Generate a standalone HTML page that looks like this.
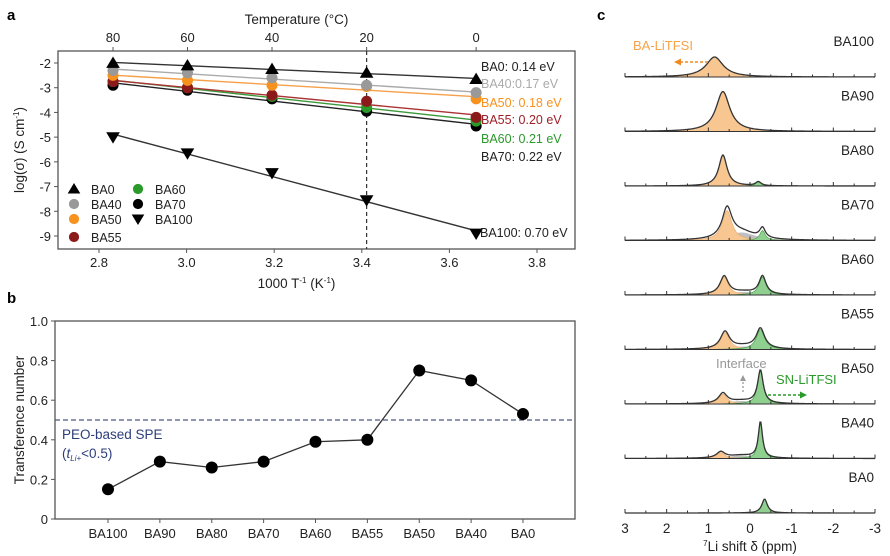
<!DOCTYPE html>
<html><head><meta charset="utf-8"><style>
html,body{margin:0;padding:0;background:#fff;}
svg{display:block;font-family:"Liberation Sans",Arial,sans-serif;}
</style></head><body>
<svg id="fig" width="890" height="556" viewBox="0 0 890 556" xmlns="http://www.w3.org/2000/svg"></svg>
<script>
// ---------- Panel a data ----------
const tempC = [80, 60, 40, 20, 0];
const invT = [2.832, 3.002, 3.195, 3.411, 3.661];
const seriesNames = ["BA0","BA40","BA50","BA55","BA60","BA70","BA100"];
const logBA0 = [-2.0, -2.1, -2.25, -2.4, -2.65];
const logBA40 = [-2.3, -2.4, -2.6, -2.9, -3.2];
const logBA50 = [-2.5, -2.7, -2.9, -2.95, -3.45];
const logBA55 = [-2.75, -3.0, -3.3, -3.55, -4.2];
const logBA60 = [-2.75, -3.0, -3.35, -3.8, -4.35];
const logBA70 = [-2.9, -3.1, -3.45, -3.95, -4.55];
const logBA100 = [-5.0, -5.65, -6.45, -7.55, -8.9];
const activation = ["0.14","0.17","0.18","0.20","0.21","0.22","0.70"];
const xTicksA = [2.8, 3.0, 3.2, 3.4, 3.6, 3.8];
const yTicksA = [-2,-3,-4,-5,-6,-7,-8,-9];
// ---------- Panel b data ----------
const bCats = ["BA100","BA90","BA80","BA70","BA60","BA55","BA50","BA40","BA0"];
const bVals = [0.15, 0.29, 0.26, 0.29, 0.39, 0.40, 0.75, 0.70, 0.53];
const yTicksB = [0, 0.2, 0.4, 0.6, 0.8, 1.0];
const peoLimit = 0.5;
// ---------- Panel c data ----------
const cNames = ["BA100","BA90","BA80","BA70","BA60","BA55","BA50","BA40","BA0"];
const orangeCenter = [0.85, 0.65, 0.65, 0.55, 0.62, 0.6, 0.65, 0.7, 0];
const orangeHeight = [20, 40, 31, 30, 18, 17, 10, 6, 0];
const orangeWidth = [0.25, 0.2, 0.12, 0.14, 0.12, 0.13, 0.12, 0.12, 0.1];
const greenCenter = [0, 0, -0.2, -0.3, -0.3, -0.25, -0.25, -0.25, -0.35];
const greenHeight = [0, 0, 4, 10, 18, 20, 33, 36, 14];
const greenWidth = [0.1, 0.1, 0.08, 0.08, 0.1, 0.12, 0.08, 0.06, 0.08];
const grayCenter = [0, 0, 0, 0.2, 0.15, 0.15, 0.2, 0.2, 0];
const grayHeight = [0, 0, 0, 8, 3, 3, 3, 3, 0];
const grayWidth = [0.4, 0.4, 0.4, 0.4, 0.4, 0.4, 0.4, 0.4, 0.4];
const xTicksC = [3, 2, 1, 0, -1, -2, -3];

const NS = "http://www.w3.org/2000/svg";
const svg = document.getElementById("fig");
function mk(tag, attrs, parent, text) {
  const e = document.createElementNS(NS, tag);
  for (const k in attrs) e.setAttribute(k, attrs[k]);
  if (text !== undefined) e.textContent = text;
  (parent || svg).appendChild(e);
  return e;
}

// ================= Panel a =================
const A = {l:58, r:575, t:51, b:249};
const xa = v => 99 + (v - 2.8) * 438;
const ya = v => 63 + (-2 - v) * (173/7);
const ga = mk("g", {});  
let t = mk("text",{x:7,y:20,"font-size":15,"font-weight":"bold"},ga,"a");  
let fr = mk("rect",{x:A.l,y:A.t,width:A.r-A.l,height:A.b-A.t,fill:"none",stroke:"#555","stroke-width":1.3},ga);  
xTicksA.forEach(v=>{
  mk("line",{x1:xa(v),x2:xa(v),y1:A.b,y2:A.b+4,stroke:"#555"},ga);
  let tt = mk("text",{x:xa(v),y:A.b+18,"font-size":13,"text-anchor":"middle",fill:"#222"},ga,v.toFixed(1));
   
});
yTicksA.forEach(v=>{
  mk("line",{x1:A.l-4,x2:A.l,y1:ya(v),y2:ya(v),stroke:"#555"},ga);
  let tt = mk("text",{x:A.l-7,y:ya(v)+5,"font-size":13,"text-anchor":"end",fill:"#222"},ga,String(v));
   
});
tempC.forEach((c,i)=>{
  mk("line",{x1:xa(invT[i]),x2:xa(invT[i]),y1:A.t,y2:A.t-4,stroke:"#555"},ga);
  let tt = mk("text",{x:xa(invT[i]),y:A.t-9,"font-size":13,"text-anchor":"middle",fill:"#222"},ga,String(c));
   
});
t = mk("text",{x:(A.l+A.r)/2-20,y:24,"font-size":13.5,"text-anchor":"middle",fill:"#222"},ga,"Temperature (°C)");  
t = mk("text",{x:(A.l+A.r)/2-20,y:288,"font-size":13.5,"text-anchor":"middle",fill:"#222"},ga);  
t.innerHTML = '1000 T<tspan dy="-5" font-size="8">-1</tspan><tspan dy="5"> (K</tspan><tspan dy="-5" font-size="8">-1</tspan><tspan dy="5">)</tspan>';
t = mk("text",{x:0,y:0,"font-size":13.5,"text-anchor":"middle",fill:"#222",transform:"translate(24,150) rotate(-90)"},ga);  
t.innerHTML = 'log(σ) (S cm<tspan dy="-5" font-size="8">-1</tspan><tspan dy="5">)</tspan>';
let dv = mk("line",{x1:xa(3.411),x2:xa(3.411),y1:A.t,y2:A.b,stroke:"#333","stroke-dasharray":"4,3","stroke-width":1.2},ga);  

const allA = [logBA0,logBA40,logBA50,logBA55,logBA60,logBA70,logBA100];
const mColors = ["#000","#999","#f7921e","#8b1a1a","#2a9a2a","#000","#000"];
const lColors = ["#333","#aaa","#f5a04a","#a33","#3a9a3a","#222","#333"];
const txtColors = ["#222","#aaa","#f7921e","#a0202a","#2a9a2a","#222","#222"];
const shapes = ["up","c","c","c","c","c","down"];
function marker(g, shape, cx, cy, col, s) {
  let m;
  if (shape==="up") m = mk("path",{d:`M${cx},${cy-s} L${cx+s*1.05},${cy+s*0.75} L${cx-s*1.05},${cy+s*0.75}Z`,fill:col},g);
  else if (shape==="down") m = mk("path",{d:`M${cx},${cy+s} L${cx+s*1.05},${cy-s*0.75} L${cx-s*1.05},${cy-s*0.75}Z`,fill:col},g);
  else m = mk("circle",{cx:cx,cy:cy,r:s*0.85,fill:col},g);
  return m;
}
// draw order: back to front
[6,5,4,3,2,1,0].forEach(si=>{
  const ys = allA[si];
  const n = invT.length;
  const mx = invT.reduce((a,b)=>a+b,0)/n, my = ys.reduce((a,b)=>a+b,0)/n;
  let sxy=0,sxx=0; for(let i=0;i<n;i++){sxy+=(invT[i]-mx)*(ys[i]-my);sxx+=(invT[i]-mx)**2;}
  const k = sxy/sxx, b0 = my-k*mx;
  const g = mk("g",{},ga);  
  let ln = mk("line",{x1:xa(invT[0]),y1:ya(k*invT[0]+b0),x2:xa(invT[n-1]),y2:ya(k*invT[n-1]+b0),stroke:lColors[si],"stroke-width":1.4},g);
   
  ys.forEach((v,i)=>{
    const m = marker(g, shapes[si], xa(invT[i]), ya(v), mColors[si], 6.5);
     
  });
});
const annY = [66,83,102,119,138,156,232];
seriesNames.forEach((nm,i)=>{
  const lab = nm + (i===1 ? ":" : ": ") + activation[i] + " eV";
  let tt = mk("text",{x:i===6?480:481,y:annY[i]+5,"font-size":12.5,fill:txtColors[i]},ga,lab);
   
});
// legend
const lg = mk("g",{},ga);  
const legPos = [[74,189],[74,204],[74,219],[74,237],[138,189],[138,204],[138,219]];
seriesNames.forEach((nm,i)=>{
  const [lx,ly] = legPos[i];
  const e = mk("g",{},lg);  
  marker(e, shapes[i], lx, ly, mColors[i], 6);
  mk("text",{x:lx+17,y:ly+5,"font-size":12.5,fill:"#222"},e,nm);
});

// ================= Panel b =================
const B = {l:55, r:575, t:321, b:519};
const xb = i => 108 + i * ((523-108)/8);
const yb = v => B.b - v * (B.b - B.t);
const gb = mk("g",{});  
t = mk("text",{x:7,y:303,"font-size":15,"font-weight":"bold"},gb,"b");  
fr = mk("rect",{x:B.l,y:B.t,width:B.r-B.l,height:B.b-B.t,fill:"none",stroke:"#555","stroke-width":1.3},gb);  
yTicksB.forEach(v=>{
  mk("line",{x1:B.l-4,x2:B.l,y1:yb(v),y2:yb(v),stroke:"#555"},gb);
  let tt = mk("text",{x:B.l-7,y:yb(v)+5,"font-size":13,"text-anchor":"end",fill:"#222"},gb,v===0?"0":v.toFixed(1));
   
});
bCats.forEach((c,i)=>{
  mk("line",{x1:xb(i),x2:xb(i),y1:B.b,y2:B.b+4,stroke:"#555"},gb);
  let tt = mk("text",{x:xb(i),y:B.b+19,"font-size":13,"text-anchor":"middle",fill:"#222"},gb,c);
   
});
t = mk("text",{x:0,y:0,"font-size":13.5,"text-anchor":"middle",fill:"#222",transform:"translate(24,420) rotate(-90)"},gb,"Transference number");  
let hl = mk("line",{x1:B.l,x2:B.r,y1:yb(peoLimit),y2:yb(peoLimit),stroke:"#4a5a80","stroke-dasharray":"5,3","stroke-width":1.2},gb);  
t = mk("text",{x:62,y:439,"font-size":13.5,fill:"#2c3e7a"},gb,"PEO-based SPE");  
t = mk("text",{x:62,y:458,"font-size":13.5,fill:"#2c3e7a"},gb);  
t.innerHTML = '(<tspan font-style="italic">t</tspan><tspan font-size="8" font-style="italic" dy="3">Li+</tspan><tspan dy="-3">&lt;0.5)</tspan>';
let pl = mk("polyline",{points:bVals.map((v,i)=>xb(i)+","+yb(v)).join(" "),fill:"none",stroke:"#333","stroke-width":1.3},gb);  
bVals.forEach((v,i)=>{
  let c = mk("circle",{cx:xb(i),cy:yb(v),r:6,fill:"#000"},gb);
   
});

// ================= Panel c =================
const xc = p => 625 + (3 - p) * (250/6);
const baseC = i => 77 + i * 54.5;
const gc = mk("g",{});  
t = mk("text",{x:597,y:20,"font-size":15,"font-weight":"bold"},gc,"c");  
const lor = (p,c,h,w) => h / (1 + ((p-c)/w)**2);
function pathFor(fn, y0, fill) {
  let d = "";
  for (let p=3; p>=-3.0001; p-=0.02) {
    d += (d?"L":"M") + xc(p).toFixed(2) + "," + (y0 - fn(p)).toFixed(2);
  }
  if (fill) d += `L${xc(-3)},${y0}L${xc(3)},${y0}Z`;
  return d;
}
cNames.forEach((nm,i)=>{
  const y0 = baseC(i);
  const g = mk("g",{},gc);  
  const fo = p => lor(p,orangeCenter[i],orangeHeight[i],orangeWidth[i]);
  const fg = p => lor(p,greenCenter[i],greenHeight[i],greenWidth[i]);
  const fy = p => lor(p,grayCenter[i],grayHeight[i],grayWidth[i]);
  if (grayHeight[i]>0) { let e = mk("path",{d:pathFor(fy,y0,true),fill:"#b5b5b5",opacity:0.85},g);   }
  if (orangeHeight[i]>0) { let e = mk("path",{d:pathFor(fo,y0,true),fill:"#f8c690",stroke:"#e8a868","stroke-width":0.6},g);   }
  if (greenHeight[i]>0) { let e = mk("path",{d:pathFor(fg,y0,true),fill:"#8fcf8f",stroke:"#3a9a3a","stroke-width":0.6},g);   }
  let env = mk("path",{d:pathFor(p=>fo(p)+fg(p)+fy(p),y0,false),fill:"none",stroke:"#333","stroke-width":1.3},g);
   
  let ax = mk("line",{x1:xc(3),x2:xc(-3),y1:y0,y2:y0,stroke:"#333","stroke-width":1.1},g);
   
  for (let p=3; p>=-3.001; p-=0.5) mk("line",{x1:xc(p),x2:xc(p),y1:y0,y2:y0-(Math.abs(p%1)<0.01?4:2.5),stroke:"#333"},g);
  let lb = mk("text",{x:874,y:y0-31,"font-size":13.5,"text-anchor":"end",fill:"#222"},g,nm);
   
});
xTicksC.forEach(p=>{
  let tt = mk("text",{x:xc(p),y:533,"font-size":13.5,"text-anchor":"middle",fill:"#222"},gc,String(p));
   
});
t = mk("text",{x:750,y:551,"font-size":13.5,"text-anchor":"middle",fill:"#222"},gc);  
t.innerHTML = '<tspan font-size="8" dy="-5">7</tspan><tspan dy="5">Li shift δ (ppm)</tspan>';
t = mk("text",{x:633,y:50,"font-size":13,fill:"#f7a34a"},gc,"BA-LiTFSI");  
let ar = mk("g",{},gc);  
mk("line",{x1:708,x2:680,y1:62,y2:62,stroke:"#f08a20","stroke-width":1.5,"stroke-dasharray":"3,2"},ar);
mk("path",{d:"M674,62 L681,58.5 L681,65.5Z",fill:"#f08a20"},ar);
t = mk("text",{x:716,y:368,"font-size":13,fill:"#999"},gc,"Interface");  
ar = mk("g",{},gc);  
mk("line",{x1:743,x2:743,y1:392,y2:380,stroke:"#999","stroke-width":1.3,"stroke-dasharray":"2,2"},ar);
mk("path",{d:"M743,375 L746,381 L740,381Z",fill:"#999"},ar);
t = mk("text",{x:776,y:384,"font-size":13,fill:"#2a9a2a"},gc,"SN-LiTFSI");  
ar = mk("g",{},gc);  
mk("line",{x1:768,x2:800,y1:395,y2:395,stroke:"#2a9a2a","stroke-width":1.5,"stroke-dasharray":"3,2"},ar);
mk("path",{d:"M807,395 L800,391.5 L800,398.5Z",fill:"#2a9a2a"},ar);
</script>
</body></html>
